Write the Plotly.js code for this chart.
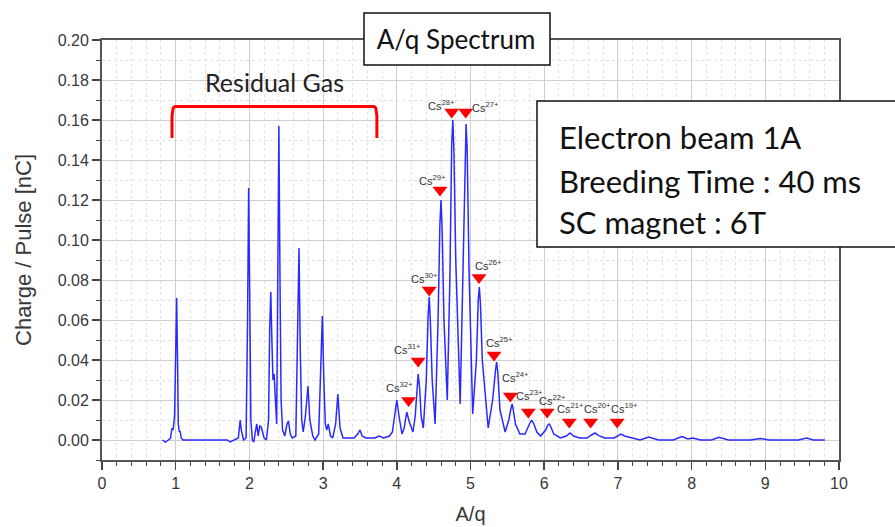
<!DOCTYPE html>
<html>
<head>
<meta charset="utf-8">
<script src="https://cdn.plot.ly/plotly-3.0.1.min.js"></script>
<style>html,body{margin:0;padding:0;background:#fff;}#chart{width:895px;height:527px;}</style>
</head>
<body>
<div id="chart"></div>
<script>
// Spectrum (A/q vs Charge/Pulse [nC])
const aq = [0.82,0.86,0.90,0.93,0.95,0.965,0.985,1.000,1.013,1.025,1.035,1.05,1.06,1.075,1.10,1.30,1.50,1.70,1.74,1.80,1.85,1.875,1.89,1.92,1.955,1.975,1.99,2.005,2.02,2.04,2.06,2.08,2.10,2.12,2.14,2.16,2.18,2.20,2.23,2.26,2.275,2.29,2.305,2.32,2.335,2.35,2.37,2.385,2.40,2.415,2.43,2.45,2.48,2.51,2.53,2.555,2.58,2.63,2.65,2.673,2.69,2.71,2.73,2.76,2.795,2.82,2.86,2.89,2.94,2.97,2.99,3.01,3.03,3.05,3.07,3.10,3.13,3.17,3.20,3.23,3.27,3.35,3.42,3.47,3.50,3.53,3.58,3.70,3.76,3.82,3.90,3.94,3.97,4.00,4.03,4.07,4.10,4.135,4.17,4.22,4.25,4.27,4.29,4.31,4.33,4.36,4.40,4.425,4.44,4.455,4.48,4.52,4.56,4.585,4.60,4.615,4.64,4.685,4.72,4.745,4.76,4.775,4.80,4.86,4.90,4.925,4.94,4.955,4.98,5.03,5.08,5.105,5.12,5.135,5.16,5.24,5.30,5.34,5.355,5.37,5.40,5.47,5.52,5.55,5.565,5.58,5.61,5.67,5.74,5.80,5.83,5.86,5.90,5.95,6.02,6.05,6.07,6.09,6.13,6.22,6.30,6.35,6.40,6.48,6.58,6.64,6.69,6.74,6.82,6.95,7.00,7.04,7.09,7.18,7.30,7.42,7.55,7.75,7.87,7.95,8.02,8.12,8.27,8.37,8.50,8.80,8.93,9.05,9.45,9.56,9.65,9.81];
const charge = [0.000,-0.001,0.000,0.001,0.006,0.005,0.012,0.050,0.071,0.040,0.008,0.004,0.0045,0.001,0.000,0.000,0.000,0.000,-0.001,0.000,0.001,0.010,0.005,0.000,0.001,0.060,0.126,0.070,0.010,0.000,-0.001,0.004,0.008,0.002,0.007,0.0065,0.003,0.001,0.000,0.010,0.055,0.074,0.050,0.030,0.033,0.020,0.008,0.080,0.157,0.080,0.020,0.005,0.002,0.008,0.0095,0.003,0.001,0.002,0.050,0.096,0.045,0.010,0.004,0.012,0.027,0.010,0.002,0.000,0.003,0.035,0.062,0.030,0.008,0.005,0.008,0.002,0.001,0.008,0.023,0.006,0.001,0.001,0.001,0.003,0.005,0.002,0.001,0.001,0.002,0.001,0.002,0.004,0.013,0.020,0.012,0.003,0.006,0.014,0.009,0.004,0.012,0.026,0.033,0.026,0.012,0.006,0.030,0.062,0.0715,0.060,0.030,0.008,0.060,0.108,0.120,0.105,0.060,0.020,0.080,0.148,0.160,0.145,0.090,0.018,0.090,0.146,0.158,0.145,0.085,0.013,0.040,0.070,0.0765,0.068,0.040,0.006,0.020,0.035,0.039,0.034,0.015,0.004,0.010,0.016,0.018,0.015,0.008,0.003,0.003,0.008,0.010,0.008,0.004,0.002,0.005,0.0075,0.008,0.0065,0.003,0.001,0.002,0.0035,0.002,0.001,0.001,0.0025,0.0035,0.0022,0.001,0.001,0.0022,0.003,0.002,0.001,0.000,0.0015,0.000,0.000,0.0017,0.0005,0.001,0.000,0.000,0.0013,0.000,0.000,0.0008,0.000,0.000,0.001,0.000,0.000];

// Cs charge-state markers and labels
const csMarkX = [4.16,4.29,4.44,4.586,4.745,4.935,5.115,5.32,5.54,5.785,6.04,6.34,6.63,6.99];
const csMarkY = [0.0197,0.0395,0.075,0.125,0.164,0.164,0.0813,0.0425,0.022,0.014,0.014,0.009,0.009,0.009];
const csLabels = ['32+','31+','30+','29+','28+','27+','26+','25+','24+','23+','22+','21+','20+','19+'];
const csLabelX = [4.04,4.145,4.376,4.485,4.60,5.20,5.24,5.39,5.61,5.80,6.11,6.35,6.72,7.09];
const csLabelY = [0.0267,0.0455,0.081,0.130,0.1675,0.1667,0.0875,0.049,0.0315,0.0225,0.020,0.016,0.016,0.016];

// Residual gas bracket
const bracketX = [0.95,0.95,0.965,0.99,3.69,3.715,3.73,3.73];
const bracketY = [0.151,0.162,0.1660,0.1668,0.1668,0.1660,0.162,0.151];

const infoLines = ['Electron beam 1A','Breeding Time : 40 ms','SC magnet : 6T'];

const axisFont = {family:'Liberation Sans, Arial, sans-serif', size:16, color:'#383838'};
const textFont = 'Lato, Open Sans, sans-serif';

const traces = [
  {x:aq, y:charge, type:'scatter', mode:'lines', line:{color:'#2a2aff', width:1.5}, hoverinfo:'skip', showlegend:false},
  {x:bracketX, y:bracketY, type:'scatter', mode:'lines', line:{color:'#ff0000', width:3}, hoverinfo:'skip', showlegend:false},
  {x:csMarkX, y:csMarkY, type:'scatter', mode:'markers', marker:{symbol:'triangle-down', size:13, color:'#ff0000'}, hoverinfo:'skip', showlegend:false}
];

const annotations = csLabels.map((l,i)=>({
  x:csLabelX[i], y:csLabelY[i], xref:'x', yref:'y', text:'Cs<sup>'+l+'</sup>', showarrow:false,
  xanchor:'center', yanchor:'middle', font:{family:'Liberation Sans, Arial, sans-serif', size:11, color:'#333'}
}));
annotations.push({x:2.34, y:0.179, xref:'x', yref:'y', text:'Residual Gas', showarrow:false, xanchor:'center', yanchor:'middle', font:{family:textFont, size:25, color:'#222'}});
const lineY = [137,181,222];
infoLines.forEach((t,i)=>{
  annotations.push({x:(557-102)/737, y:(460-lineY[i])/420, xref:'paper', yref:'paper', text:t, showarrow:false, xanchor:'left', yanchor:'middle', font:{family:textFont, size:31, color:'#111'}});
});

const layout = {
  width:895, height:527,
  margin:{l:102, r:56, t:40, b:67},
  paper_bgcolor:'#fff', plot_bgcolor:'#fff',
  title:{text:'A/q Spectrum', x:456/895, xanchor:'center', xref:'container', y:1-40/527, yanchor:'middle', yref:'container', font:{family:textFont, size:26, color:'#111'}},
  xaxis:{range:[0,10], dtick:1, tick0:0, ticks:'outside', ticklen:8, tickwidth:1.5, tickcolor:'#444',
    showline:true, linecolor:'#555', linewidth:2, mirror:true, showgrid:true, gridcolor:'#cfcfcf', gridwidth:1, zeroline:false,
    tickfont:axisFont, title:{text:'A/q', font:{family:'Liberation Sans, Arial, sans-serif', size:20, color:'#383838'}, standoff:16},
    minor:{dtick:0.2, ticks:'outside', ticklen:4, tickwidth:1, tickcolor:'#444', showgrid:true, gridcolor:'#e2e2e2', griddash:'dot', gridwidth:1}},
  yaxis:{range:[-0.01,0.2], dtick:0.02, tick0:0, tickformat:'.2f', ticks:'outside', ticklen:8, tickwidth:1.5, tickcolor:'#444',
    showline:true, linecolor:'#555', linewidth:2, mirror:true, showgrid:true, gridcolor:'#cfcfcf', gridwidth:1, zeroline:false,
    tickfont:axisFont, title:{text:'Charge / Pulse [nC]', font:{family:'Liberation Sans, Arial, sans-serif', size:22, color:'#383838'}, standoff:20},
    minor:{dtick:0.01, ticks:'outside', ticklen:4, tickwidth:1, tickcolor:'#444', showgrid:true, gridcolor:'#e2e2e2', griddash:'dot', gridwidth:1}},
  shapes:[
    {type:'rect', xref:'paper', yref:'paper', x0:(364-102)/737, x1:(550-102)/737, y0:(460-65)/420, y1:(460-13)/420, line:{color:'#111', width:1.5}, fillcolor:'#fff', layer:'above'},
    {type:'rect', xref:'paper', yref:'paper', x0:(537-102)/737, x1:1.15, y0:(460-247)/420, y1:(460-101)/420, line:{color:'#111', width:1.5}, fillcolor:'#fff', layer:'above'}
  ],
  annotations:annotations
};

Plotly.newPlot('chart', traces, layout, {displayModeBar:false, staticPlot:true});
</script>
</body>
</html>
